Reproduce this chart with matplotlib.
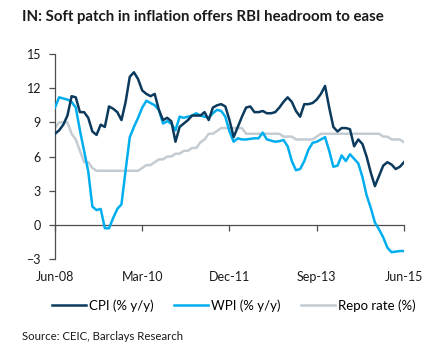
import matplotlib
matplotlib.use('Agg')
import matplotlib.pyplot as plt
import numpy as np

plt.rcParams['font.family'] = ['Lato', 'DejaVu Sans']

# months since Jun-08 (monthly, Jun-08 .. Jun-15)
months = np.arange(85)
tick_pos = [0, 21, 42, 63, 84]
tick_labels = ['Jun-08', 'Mar-10', 'Dec-11', 'Sep-13', 'Jun-15']

cpi = [8.0, 8.3, 8.8, 9.6, 11.3, 11.2, 9.9, 9.9, 9.4, 8.2,
       7.9, 8.8, 8.6, 10.4, 10.2, 9.9, 9.2, 10.8, 13.0, 13.4,
       12.8, 11.8, 11.5, 11.3, 11.5, 10.1, 9.2, 9.4, 9.1, 7.3,
       8.6, 8.9, 9.2, 9.6, 9.6, 9.6, 9.9, 9.2, 10.3, 10.5,
       10.6, 10.4, 9.2, 7.7, 8.6, 9.5, 10.3, 10.4, 9.9, 9.9,
       10.0, 9.8, 9.8, 9.9, 10.3, 10.8, 11.2, 10.8, 10.0, 9.5,
       10.6, 10.6, 10.7, 11.0, 11.5, 12.2, 10.3, 8.6, 8.2, 8.5,
       8.5, 8.4, 6.9, 7.5, 7.1, 6.0, 4.6, 3.4, 4.3, 5.2,
       5.5, 5.3, 4.9, 5.1, 5.5]

wpi = [10.3, 11.2, 11.1, 11.0, 10.8, 10.3, 8.3, 6.5, 4.7, 1.6,
       1.3, 1.4, -0.3, -0.3, 0.6, 1.4, 1.8, 4.8, 7.7, 8.6,
       9.4, 10.3, 10.9, 10.7, 10.5, 10.1, 8.9, 9.1, 8.9, 8.3,
       9.5, 9.4, 9.5, 9.6, 9.8, 9.6, 9.5, 9.4, 9.8, 10.1,
       10.0, 9.5, 8.2, 7.3, 7.6, 7.5, 7.5, 7.55, 7.6, 7.6,
       8.1, 7.5, 7.4, 7.3, 7.35, 7.45, 6.9, 5.6, 4.8, 4.9,
       5.6, 6.6, 7.2, 7.3, 7.5, 7.7, 6.5, 5.1, 5.2, 6.1,
       5.6, 6.2, 5.8, 5.4, 4.2, 2.6, 1.5, 0.2, -0.4, -1.1,
       -2.0, -2.4, -2.35, -2.3, -2.3]

repo = [8.5, 9.0, 9.0, 9.0, 8.0, 7.5, 6.5, 5.5, 5.5, 5.0,
        4.75, 4.75, 4.75, 4.75, 4.75, 4.75, 4.75, 4.75, 4.75, 4.75,
        4.75, 5.0, 5.25, 5.25, 5.5, 5.75, 5.75, 6.0, 6.0, 6.25,
        6.25, 6.5, 6.5, 6.75, 6.75, 7.25, 7.5, 8.0, 8.0, 8.25,
        8.5, 8.5, 8.5, 8.5, 8.5, 8.5, 8.0, 8.0, 8.0, 8.0,
        8.0, 8.0, 8.0, 8.0, 8.0, 7.75, 7.75, 7.75, 7.5, 7.5,
        7.5, 7.5, 7.5, 7.75, 8.0, 8.0, 8.0, 8.0, 8.0, 8.0,
        8.0, 8.0, 8.0, 8.0, 8.0, 8.0, 8.0, 8.0, 8.0, 7.75,
        7.75, 7.5, 7.5, 7.5, 7.25]

c_cpi = '#0b3a5d'
c_wpi = '#00aeef'
c_repo = '#c3ccd3'
c_axis = '#4d4d4d'

fig = plt.figure(figsize=(4.33, 3.58), dpi=100)
ax = fig.add_axes([0.127, 0.2765, 0.806, 0.5725])

ax.plot(months, repo, color=c_repo, lw=1.8, label='Repo rate (%)', zorder=2)
ax.plot(months, wpi, color=c_wpi, lw=1.8, label='WPI (% y/y)', zorder=3)
ax.plot(months, cpi, color=c_cpi, lw=1.8, label='CPI (% y/y)', zorder=4)

ax.set_xlim(0, 84)
ax.set_ylim(-3, 15)
ax.set_yticks(np.arange(-3, 16, 3))
ax.set_xticks(tick_pos)
ax.set_xticklabels(tick_labels)

for s in ['top', 'right']:
    ax.spines[s].set_visible(False)
ax.spines['bottom'].set_position(('data', 0))
ax.spines['bottom'].set_color(c_axis)
ax.spines['left'].set_color(c_axis)
ax.spines['bottom'].set_linewidth(0.9)
ax.spines['left'].set_linewidth(0.9)
ax.tick_params(axis='y', direction='out', length=4, width=0.9, color=c_axis,
               labelsize=9, labelcolor='#1a1a1a', pad=6)
ax.tick_params(axis='x', direction='out', length=4, width=0.9, color=c_axis,
               labelsize=9, labelcolor='#1a1a1a', pad=29)

fig.text(0.051, 0.952, 'IN: Soft patch in inflation offers RBI headroom to ease',
         fontsize=10.8, fontweight='bold', color='#1a1a1a', va='center', ha='left')

handles, labels = ax.get_legend_handles_labels()
order = [2, 1, 0]
fig.legend([handles[i] for i in order], [labels[i] for i in order],
           loc='center', bbox_to_anchor=(0.54, 0.146), ncol=3, frameon=False,
           fontsize=9.5, handlelength=2.6, handletextpad=0.25, columnspacing=1.5)

fig.text(0.051, 0.06, 'Source: CEIC, Barclays Research', fontsize=8.2,
         color='#1a1a1a', va='center', ha='left')

fig.savefig('out.png', dpi=100)
